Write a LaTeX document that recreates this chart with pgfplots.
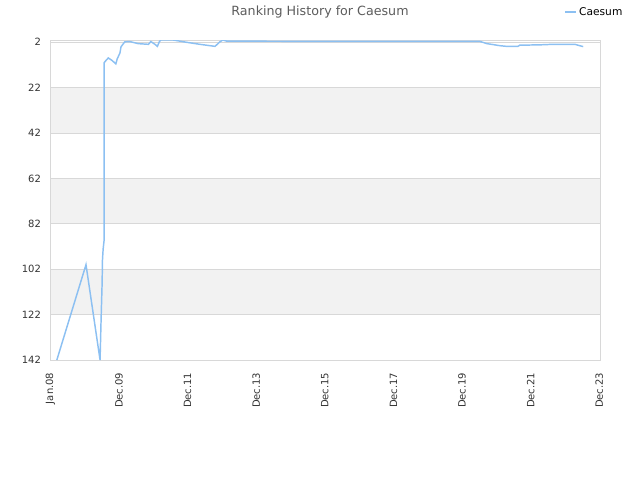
\documentclass[border=0pt]{standalone}
\usepackage{pgfplots}
\pgfplotsset{compat=1.18}
\usepackage{fontspec}
\setmainfont{DejaVu Sans}
\definecolor{linec}{RGB}{140,192,242}
\definecolor{bandc}{RGB}{242,242,242}
\definecolor{gridc}{RGB}{216,216,216}
\definecolor{txtc}{RGB}{51,51,51}
\begin{document}
\begin{tikzpicture}
\useasboundingbox (0pt,0pt) rectangle (480pt,360pt);
\node[font=\fontsize{9.5}{11}\selectfont, text=txtc!80!white] at (240pt,351pt) {Ranking History for Caesum};
\begin{axis}[
  at={(38.25pt,90pt)}, anchor=south west,
  scale only axis, width=411.75pt, height=240pt,
  xmin=2008, xmax=2024,
  ymin=1, ymax=142, y dir=reverse,
  ytick={2,22,42,62,82,102,122,142},
  xtick={2008,2010,2012,2014,2016,2018,2020,2022,2024},
  xticklabels={Jan.08,Dec.09,Dec.11,Dec.13,Dec.15,Dec.17,Dec.19,Dec.21,Dec.23},
  xticklabel style={rotate=90, anchor=east, xshift=-6pt, yshift=0.5pt, font=\fontsize{7.5}{9}\selectfont, text=txtc},
  yticklabel style={xshift=-4pt, font=\fontsize{7.5}{9}\selectfont, text=txtc},
  /pgf/number format/assume math mode=true,
  major tick length=0pt,
  ymajorgrids, grid style={gridc, line width=0.6pt},
  axis line style={gridc, line width=0.75pt},
  legend style={at={(1,1)}, anchor=south east, xshift=22pt, yshift=13pt, draw=none, fill=none, font=\fontsize{8}{9.5}\selectfont},
  legend cell align=left,
  legend image code/.code={\draw[#1] (0pt,0pt) -- (8pt,0pt);},
]
\fill[bandc] (axis cs:2008,22.2) rectangle (axis cs:2024,41.8);
\fill[bandc] (axis cs:2008,62.2) rectangle (axis cs:2024,81.8);
\fill[bandc] (axis cs:2008,102.2) rectangle (axis cs:2024,121.8);
\addplot[linec, line width=1.1pt] coordinates {
(2008.17,142) (2009.02,100) (2009.43,142) (2009.46,124) (2009.49,108) (2009.50,98)
(2009.52,93) (2009.55,89) (2009.55,11) (2009.58,10.4) (2009.67,8.9) (2009.77,9.9)
(2009.89,11.5) (2009.93,9.3) (2010.01,6.7) (2010.04,4) (2010.15,1.8) (2010.30,1.7)
(2010.54,2.6) (2010.84,2.9) (2010.91,1.7) (2011.03,2.9) (2011.10,3.8) (2011.16,1.7)
(2011.20,1) (2011.56,1) (2011.95,2) (2012.34,2.9) (2012.78,3.8) (2012.93,1.7)
(2013.01,1) (2013.12,1.5) (2016.04,1.6) (2020.50,1.6) (2020.70,2.6) (2020.88,3)
(2021.08,3.5) (2021.28,3.8) (2021.61,3.8) (2021.66,3.3) (2022.30,3.1) (2022.63,2.9)
(2023.27,2.9) (2023.36,3.3) (2023.51,3.9)
};
\addlegendentry{Caesum}
\end{axis}
\end{tikzpicture}
\end{document}
